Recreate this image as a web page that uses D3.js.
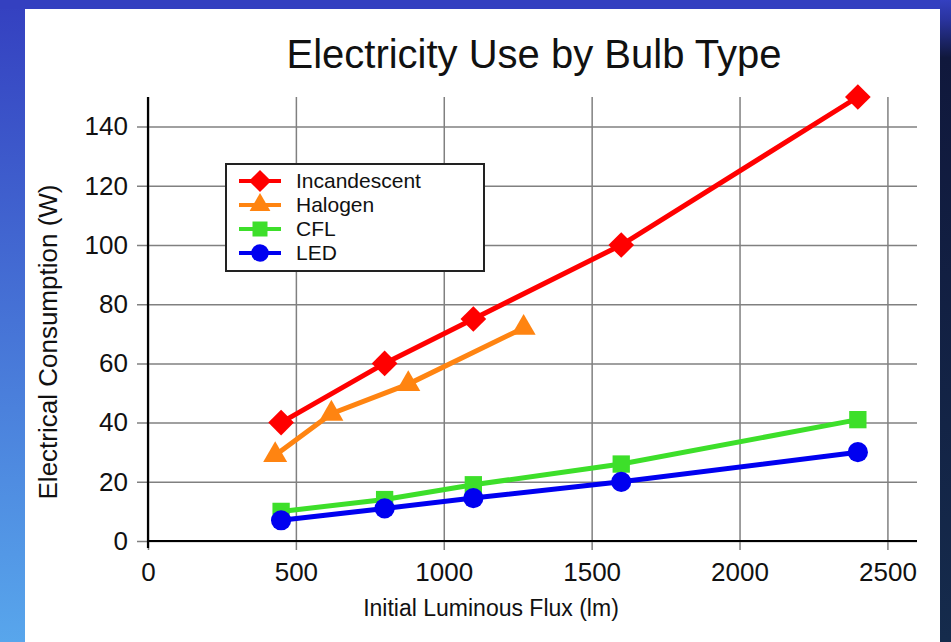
<!DOCTYPE html>
<html>
<head>
<meta charset="utf-8">
<script src="https://cdn.jsdelivr.net/npm/d3@7"></script>
<style>
  body { margin: 0; padding: 0; overflow: hidden; }
  text { font-family: "Liberation Sans", Arial, Helvetica, sans-serif; }
</style>
</head>
<body>
<div id="chart"></div>
<script>
// Dados
var seriesNames = ["Incandescent", "Halogen", "CFL", "LED"];
var seriesColors = ["#ff0000", "#ff8411", "#3ddf2a", "#0000f0"];

var incandescentLumens = [450, 800, 1100, 1600, 2400];
var incandescentWatts  = [40, 60, 75, 100, 150];
var halogenLumens = [430, 620, 880, 1270];
var halogenWatts  = [29, 43, 53, 72];
var cflLumens = [450, 800, 1100, 1600, 2400];
var cflWatts  = [10, 14, 19, 26, 41];
var ledLumens = [450, 800, 1100, 1600, 2400];
var ledWatts  = [7, 11, 14.5, 20, 30];

var xTicks = [0, 500, 1000, 1500, 2000, 2500];
var yTicks = [0, 20, 40, 60, 80, 100, 120, 140];

function createChart() {
  d3.select("#chart").select("svg").remove();

  var W = 951, H = 642;
  var margin = {top: 97, right: 34, bottom: 101, left: 148},
      width = W - margin.left - margin.right,
      height = H - margin.top - margin.bottom;

  var svg = d3.select("#chart")
    .append("svg")
      .attr("width", W)
      .attr("height", H);

  // Fundo azul com gradientes
  var defs = svg.append("defs");
  var gLeft = defs.append("linearGradient").attr("id", "bgLeft")
    .attr("x1", 0).attr("y1", 0).attr("x2", 0).attr("y2", 1);
  gLeft.append("stop").attr("offset", "0%").attr("stop-color", "#3440c0");
  gLeft.append("stop").attr("offset", "100%").attr("stop-color", "#58a6ec");
  var gRight = defs.append("linearGradient").attr("id", "bgRight")
    .attr("x1", 0).attr("y1", 0).attr("x2", 0).attr("y2", 1);
  gRight.append("stop").attr("offset", "0%").attr("stop-color", "#3440c0");
  gRight.append("stop").attr("offset", "3%").attr("stop-color", "#2a34a0");
  gRight.append("stop").attr("offset", "9%").attr("stop-color", "#10183c");
  gRight.append("stop").attr("offset", "100%").attr("stop-color", "#152b4c");

  svg.append("rect").attr("width", W).attr("height", H).attr("fill", "url(#bgLeft)");
  svg.append("rect").attr("x", 0).attr("width", W).attr("height", 9).attr("fill", "#3440c0");
  svg.append("rect").attr("x", 940).attr("width", 11).attr("height", H).attr("fill", "url(#bgRight)");
  svg.append("rect").attr("x", 25).attr("y", 9).attr("width", 915).attr("height", H - 9).attr("fill", "#ffffff");

  var g = svg.append("g")
    .attr("transform", "translate(" + margin.left + "," + margin.top + ")");

  var x = d3.scaleLinear().domain([0, 2600]).range([0, width]);
  var y = d3.scaleLinear().domain([0, 150]).range([height, 0]);

  // Eixo Y com grade
  var yAxis = g.append("g")
    .call(d3.axisLeft(y).tickValues(yTicks).tickSizeOuter(0).tickPadding(14));
  yAxis.select(".domain").remove();
  yAxis.selectAll(".tick line")
    .attr("x1", -11).attr("x2", width)
    .attr("stroke", "#808080").attr("stroke-width", 1.5);
  yAxis.selectAll(".tick text")
    .attr("font-size", 26).attr("fill", "#111");

  // Eixo X com grade
  var xAxis = g.append("g")
    .attr("transform", "translate(0," + height + ")")
    .call(d3.axisBottom(x).tickValues(xTicks).tickFormat(d3.format("d")).tickSizeOuter(0).tickPadding(10));
  xAxis.select(".domain").remove();
  xAxis.selectAll(".tick line")
    .attr("y1", 9).attr("y2", -height)
    .attr("stroke", "#808080").attr("stroke-width", 1.5);
  xAxis.selectAll(".tick text")
    .attr("font-size", 26).attr("fill", "#111").attr("dy", "0.92em");

  // Linhas dos eixos
  g.append("line").attr("x1", 0).attr("x2", 0).attr("y1", 0).attr("y2", height + 7)
    .attr("stroke", "#000").attr("stroke-width", 2.2);
  g.append("line").attr("x1", 0).attr("x2", width).attr("y1", height).attr("y2", height)
    .attr("stroke", "#000").attr("stroke-width", 2.2);

  // Séries
  var series = [
    {name: seriesNames[0], xs: incandescentLumens, ys: incandescentWatts, color: seriesColors[0], sym: "diamond"},
    {name: seriesNames[1], xs: halogenLumens, ys: halogenWatts, color: seriesColors[1], sym: "triangle"},
    {name: seriesNames[2], xs: cflLumens, ys: cflWatts, color: seriesColors[2], sym: "square"},
    {name: seriesNames[3], xs: ledLumens, ys: ledWatts, color: seriesColors[3], sym: "circle"}
  ];

  function symbolPath(kind, scale) {
    if (kind === "diamond") return d3.symbol().type(d3.symbolSquare).size(330 * scale)();
    if (kind === "triangle") return d3.symbol().type(d3.symbolTriangle).size(250 * scale)();
    if (kind === "square") return d3.symbol().type(d3.symbolSquare).size(300 * scale)();
    return d3.symbol().type(d3.symbolCircle).size(320 * scale)();
  }
  function symbolRotate(kind) { return kind === "diamond" ? " rotate(45)" : ""; }

  var line = d3.line()
    .x(function (d) { return x(d[0]); })
    .y(function (d) { return y(d[1]); });

  series.forEach(function (s) {
    var pts = s.xs.map(function (v, i) { return [v, s.ys[i]]; });
    g.append("path")
      .datum(pts)
      .attr("d", line)
      .attr("fill", "none")
      .attr("stroke", s.color)
      .attr("stroke-width", 5);
    g.append("g")
      .selectAll("path")
      .data(pts)
      .enter()
      .append("path")
        .attr("d", symbolPath(s.sym, 1))
        .attr("transform", function (d) { return "translate(" + x(d[0]) + "," + y(d[1]) + ")" + symbolRotate(s.sym); })
        .attr("fill", s.color);
  });

  // Legenda
  var legend = svg.append("g").attr("transform", "translate(226,164)");
  legend.append("rect")
    .attr("width", 258).attr("height", 107)
    .attr("fill", "#fff").attr("stroke", "#222").attr("stroke-width", 2);
  series.forEach(function (s, i) {
    var ly = 17 + i * 24;
    legend.append("line")
      .attr("x1", 13).attr("x2", 55).attr("y1", ly).attr("y2", ly)
      .attr("stroke", s.color).attr("stroke-width", 4);
    legend.append("path")
      .attr("d", symbolPath(s.sym, 0.75))
      .attr("transform", "translate(34," + ly + ")" + symbolRotate(s.sym))
      .attr("fill", s.color);
    legend.append("text")
      .attr("x", 70).attr("y", ly).attr("dy", "0.35em")
      .attr("font-size", 21).attr("fill", "#111")
      .text(s.name);
  });

  // Títulos
  svg.append("text")
    .attr("x", 534).attr("y", 68)
    .attr("text-anchor", "middle")
    .attr("font-size", 40).attr("fill", "#111")
    .text("Electricity Use by Bulb Type");
  svg.append("text")
    .attr("x", 491).attr("y", 616)
    .attr("text-anchor", "middle")
    .attr("font-size", 23).attr("fill", "#111")
    .text("Initial Luminous Flux (lm)");
  svg.append("text")
    .attr("transform", "translate(57,342) rotate(-90)")
    .attr("text-anchor", "middle")
    .attr("font-size", 26).attr("fill", "#111")
    .text("Electrical Consumption (W)");
}

document.addEventListener("DOMContentLoaded", function () {
  createChart();
});
</script>
</body>
</html>
